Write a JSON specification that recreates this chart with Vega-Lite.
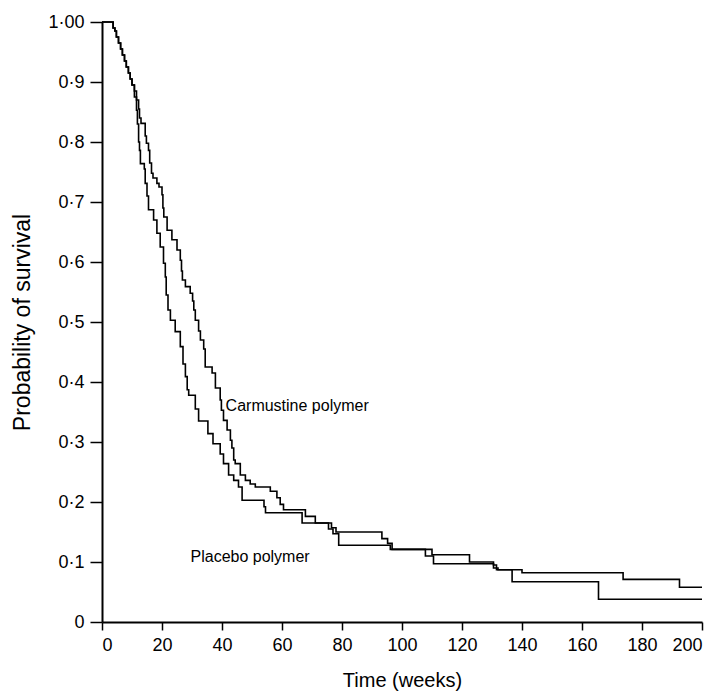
{
  "$schema": "https://vega.github.io/schema/vega-lite/v6.json",
  "width": 600,
  "height": 600,
  "autosize": {"type": "none"},
  "padding": {"left": 102, "top": 22, "right": 17, "bottom": 74},
  "background": "white",
  "config": {"view": {"stroke": null}, "font": "Liberation Sans"},
  "datasets": {
    "km": [
      {"group": "Carmustine", "week": 0, "survival": 1.0},
      {"group": "Carmustine", "week": 3.7, "survival": 0.99},
      {"group": "Carmustine", "week": 4.3, "survival": 0.985},
      {"group": "Carmustine", "week": 4.8, "survival": 0.975},
      {"group": "Carmustine", "week": 5.5, "survival": 0.965},
      {"group": "Carmustine", "week": 6.2, "survival": 0.955},
      {"group": "Carmustine", "week": 6.8, "survival": 0.945},
      {"group": "Carmustine", "week": 7.5, "survival": 0.935},
      {"group": "Carmustine", "week": 8.1, "survival": 0.925},
      {"group": "Carmustine", "week": 8.8, "survival": 0.915},
      {"group": "Carmustine", "week": 9.4, "survival": 0.905},
      {"group": "Carmustine", "week": 10, "survival": 0.895},
      {"group": "Carmustine", "week": 10.8, "survival": 0.885},
      {"group": "Carmustine", "week": 11.5, "survival": 0.87},
      {"group": "Carmustine", "week": 12.2, "survival": 0.855},
      {"group": "Carmustine", "week": 12.5, "survival": 0.84},
      {"group": "Carmustine", "week": 13, "survival": 0.831},
      {"group": "Carmustine", "week": 14.4, "survival": 0.81},
      {"group": "Carmustine", "week": 14.8, "survival": 0.798},
      {"group": "Carmustine", "week": 15.5, "survival": 0.786},
      {"group": "Carmustine", "week": 15.9, "survival": 0.765},
      {"group": "Carmustine", "week": 16.5, "survival": 0.748},
      {"group": "Carmustine", "week": 17, "survival": 0.74},
      {"group": "Carmustine", "week": 18.3, "survival": 0.731},
      {"group": "Carmustine", "week": 19, "survival": 0.725},
      {"group": "Carmustine", "week": 20, "survival": 0.712},
      {"group": "Carmustine", "week": 20.3, "survival": 0.69},
      {"group": "Carmustine", "week": 20.6, "survival": 0.675},
      {"group": "Carmustine", "week": 21.7, "survival": 0.653},
      {"group": "Carmustine", "week": 23.3, "survival": 0.637},
      {"group": "Carmustine", "week": 25, "survival": 0.62},
      {"group": "Carmustine", "week": 26.1, "survival": 0.603},
      {"group": "Carmustine", "week": 26.5, "survival": 0.585},
      {"group": "Carmustine", "week": 26.8, "survival": 0.57},
      {"group": "Carmustine", "week": 27.8, "survival": 0.559},
      {"group": "Carmustine", "week": 29.4, "survival": 0.548},
      {"group": "Carmustine", "week": 30.2, "survival": 0.535},
      {"group": "Carmustine", "week": 30.6, "survival": 0.52},
      {"group": "Carmustine", "week": 31.1, "survival": 0.503},
      {"group": "Carmustine", "week": 32.2, "survival": 0.485},
      {"group": "Carmustine", "week": 32.8, "survival": 0.47},
      {"group": "Carmustine", "week": 33.9, "survival": 0.455},
      {"group": "Carmustine", "week": 34.4, "survival": 0.425},
      {"group": "Carmustine", "week": 36.7, "survival": 0.415},
      {"group": "Carmustine", "week": 37.8, "survival": 0.39},
      {"group": "Carmustine", "week": 39.4, "survival": 0.37},
      {"group": "Carmustine", "week": 39.8, "survival": 0.353},
      {"group": "Carmustine", "week": 40.5, "survival": 0.336},
      {"group": "Carmustine", "week": 41.7, "survival": 0.32},
      {"group": "Carmustine", "week": 42.8, "survival": 0.303},
      {"group": "Carmustine", "week": 43.3, "survival": 0.29},
      {"group": "Carmustine", "week": 43.9, "survival": 0.27},
      {"group": "Carmustine", "week": 44.4, "survival": 0.264},
      {"group": "Carmustine", "week": 46.1, "survival": 0.245},
      {"group": "Carmustine", "week": 47.8, "survival": 0.236},
      {"group": "Carmustine", "week": 49.4, "survival": 0.23},
      {"group": "Carmustine", "week": 51.1, "survival": 0.225},
      {"group": "Carmustine", "week": 56.1, "survival": 0.218},
      {"group": "Carmustine", "week": 58.3, "survival": 0.207},
      {"group": "Carmustine", "week": 59.4, "survival": 0.196},
      {"group": "Carmustine", "week": 60.5, "survival": 0.187},
      {"group": "Carmustine", "week": 67.8, "survival": 0.176},
      {"group": "Carmustine", "week": 71.1, "survival": 0.165},
      {"group": "Carmustine", "week": 76.5, "survival": 0.157},
      {"group": "Carmustine", "week": 78, "survival": 0.15},
      {"group": "Carmustine", "week": 93.3, "survival": 0.139},
      {"group": "Carmustine", "week": 95.2, "survival": 0.131},
      {"group": "Carmustine", "week": 96.7, "survival": 0.121},
      {"group": "Carmustine", "week": 110, "survival": 0.112},
      {"group": "Carmustine", "week": 122.5, "survival": 0.1},
      {"group": "Carmustine", "week": 130.5, "survival": 0.095},
      {"group": "Carmustine", "week": 131.5, "survival": 0.087},
      {"group": "Carmustine", "week": 140, "survival": 0.082},
      {"group": "Carmustine", "week": 173.7, "survival": 0.071},
      {"group": "Carmustine", "week": 192.5, "survival": 0.058},
      {"group": "Carmustine", "week": 200, "survival": 0.058},
      {"group": "Placebo", "week": 0, "survival": 1.0},
      {"group": "Placebo", "week": 3.7, "survival": 0.99},
      {"group": "Placebo", "week": 4.3, "survival": 0.985},
      {"group": "Placebo", "week": 4.8, "survival": 0.975},
      {"group": "Placebo", "week": 5.5, "survival": 0.965},
      {"group": "Placebo", "week": 6.2, "survival": 0.955},
      {"group": "Placebo", "week": 6.8, "survival": 0.945},
      {"group": "Placebo", "week": 7.5, "survival": 0.935},
      {"group": "Placebo", "week": 8.1, "survival": 0.925},
      {"group": "Placebo", "week": 8.8, "survival": 0.915},
      {"group": "Placebo", "week": 9.4, "survival": 0.905},
      {"group": "Placebo", "week": 10, "survival": 0.895},
      {"group": "Placebo", "week": 10.8, "survival": 0.875},
      {"group": "Placebo", "week": 11.5, "survival": 0.853},
      {"group": "Placebo", "week": 11.8, "survival": 0.83},
      {"group": "Placebo", "week": 12.2, "survival": 0.8},
      {"group": "Placebo", "week": 12.5, "survival": 0.786},
      {"group": "Placebo", "week": 12.8, "survival": 0.764},
      {"group": "Placebo", "week": 14.1, "survival": 0.755},
      {"group": "Placebo", "week": 14.4, "survival": 0.731},
      {"group": "Placebo", "week": 15, "survival": 0.71},
      {"group": "Placebo", "week": 15.5, "survival": 0.687},
      {"group": "Placebo", "week": 17.2, "survival": 0.67},
      {"group": "Placebo", "week": 18.3, "survival": 0.648},
      {"group": "Placebo", "week": 19.4, "survival": 0.625},
      {"group": "Placebo", "week": 20.5, "survival": 0.598},
      {"group": "Placebo", "week": 21.1, "survival": 0.575},
      {"group": "Placebo", "week": 21.4, "survival": 0.545},
      {"group": "Placebo", "week": 22, "survival": 0.52},
      {"group": "Placebo", "week": 22.8, "survival": 0.503},
      {"group": "Placebo", "week": 24.4, "survival": 0.484},
      {"group": "Placebo", "week": 26.1, "survival": 0.459},
      {"group": "Placebo", "week": 27, "survival": 0.43},
      {"group": "Placebo", "week": 27.8, "survival": 0.409},
      {"group": "Placebo", "week": 28.4, "survival": 0.387},
      {"group": "Placebo", "week": 28.9, "survival": 0.378},
      {"group": "Placebo", "week": 31.1, "survival": 0.355},
      {"group": "Placebo", "week": 32.2, "survival": 0.335},
      {"group": "Placebo", "week": 35.3, "survival": 0.314},
      {"group": "Placebo", "week": 37, "survival": 0.297},
      {"group": "Placebo", "week": 39.4, "survival": 0.28},
      {"group": "Placebo", "week": 40.5, "survival": 0.264},
      {"group": "Placebo", "week": 42.2, "survival": 0.245},
      {"group": "Placebo", "week": 43.9, "survival": 0.236},
      {"group": "Placebo", "week": 45.5, "survival": 0.225},
      {"group": "Placebo", "week": 46.7, "survival": 0.203},
      {"group": "Placebo", "week": 54, "survival": 0.192},
      {"group": "Placebo", "week": 54.5, "survival": 0.182},
      {"group": "Placebo", "week": 66.7, "survival": 0.165},
      {"group": "Placebo", "week": 75.5, "survival": 0.155},
      {"group": "Placebo", "week": 77, "survival": 0.147},
      {"group": "Placebo", "week": 78.9, "survival": 0.128},
      {"group": "Placebo", "week": 96.1, "survival": 0.121},
      {"group": "Placebo", "week": 107.8, "survival": 0.11},
      {"group": "Placebo", "week": 110.5, "survival": 0.097},
      {"group": "Placebo", "week": 130.5, "survival": 0.09},
      {"group": "Placebo", "week": 132, "survival": 0.087},
      {"group": "Placebo", "week": 136.7, "survival": 0.067},
      {"group": "Placebo", "week": 165.5, "survival": 0.038},
      {"group": "Placebo", "week": 200, "survival": 0.038}
    ],
    "labels": [
      {"label": "Carmustine polymer", "week": 41.2, "survival": 0.36},
      {"label": "Placebo polymer", "week": 29.5, "survival": 0.108}
    ]
  },
  "layer": [
    {
      "data": {"name": "km"},
      "mark": {"type": "line", "interpolate": "step-after", "color": "black", "strokeWidth": 1.6},
      "encoding": {
        "x": {
          "field": "week", "type": "quantitative",
          "scale": {"domain": [0, 200], "nice": false, "zero": false},
          "axis": {
            "values": [0, 20, 40, 60, 80, 100, 120, 140, 160, 180, 200],
            "title": "Time (weeks)", "grid": false,
            "domainColor": "black", "domainWidth": 2,
            "tickColor": "black", "tickWidth": 1.5, "tickSize": 8,
            "labelColor": "black", "labelFontSize": 18, "labelPadding": 6, "labelFont": "Liberation Sans",
            "titleColor": "black", "titleFontSize": 20, "titleFontWeight": "normal", "titlePadding": 16, "titleFont": "Liberation Sans"
          }
        },
        "y": {
          "field": "survival", "type": "quantitative",
          "scale": {"domain": [0, 1], "nice": false},
          "axis": {
            "values": [0, 0.1, 0.2, 0.3, 0.4, 0.5, 0.6, 0.7, 0.8, 0.9, 1],
            "labelExpr": "datum.value == 1 ? '1·00' : (datum.value == 0 ? '0' : replace(format(datum.value, '.1f'), '.', '·'))",
            "title": "Probability of survival", "grid": false,
            "domainColor": "black", "domainWidth": 2,
            "tickColor": "black", "tickWidth": 1.5, "tickSize": 12,
            "labelColor": "black", "labelFontSize": 18, "labelPadding": 6, "labelFont": "Liberation Sans",
            "titleColor": "black", "titleFontSize": 23, "titleFontWeight": "normal", "titlePadding": 13, "titleFont": "Liberation Sans"
          }
        },
        "detail": {"field": "group", "type": "nominal"}
      }
    },
    {
      "data": {"name": "labels"},
      "mark": {"type": "text", "align": "left", "baseline": "middle", "fontSize": 16, "font": "Liberation Sans", "color": "black"},
      "encoding": {
        "x": {"field": "week", "type": "quantitative"},
        "y": {"field": "survival", "type": "quantitative"},
        "text": {"field": "label"}
      }
    }
  ]
}
